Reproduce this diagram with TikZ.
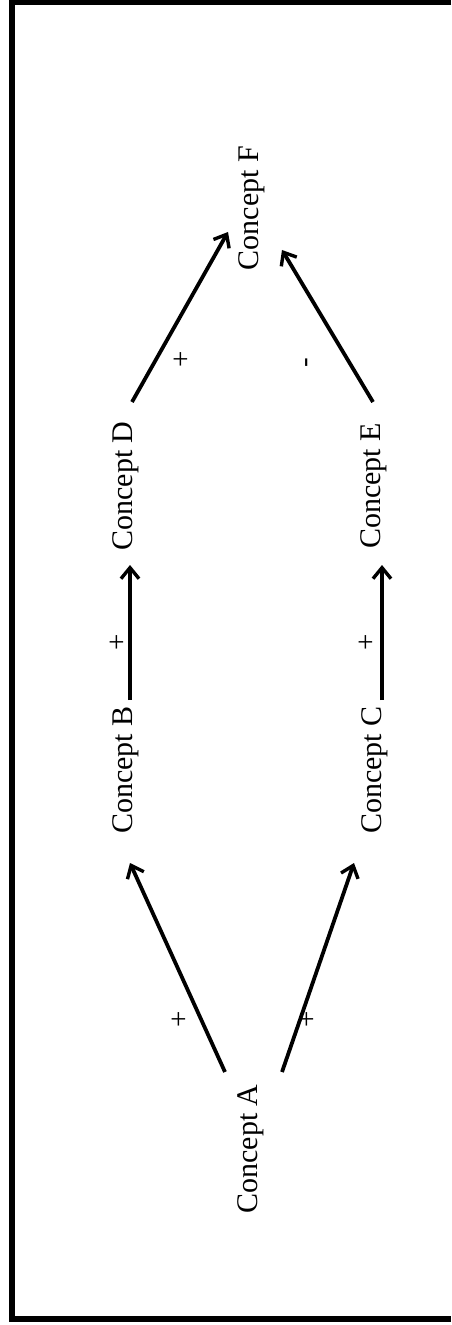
\documentclass[tikz,border=0pt]{standalone}
\usepackage{fontspec}
\setmainfont{Liberation Serif}
\usetikzlibrary{arrows.meta,calc}
\begin{document}
\begin{tikzpicture}[x=0.5pt,y=-0.5pt,
  concept/.style={rotate=90,anchor=base,inner sep=0pt,font=\fontsize{15}{18}\selectfont},
  sign/.style={rotate=90,inner sep=0pt,font=\fontsize{14.5}{17}\selectfont},
  link/.style={line width=1.9pt,-{Straight Barb[length=5.5pt,width=9pt,line width=1.7pt]}},
  frame/.style={line width=3pt}]
\useasboundingbox (0,0) rectangle (451,1325);
% open frame (right side runs off the page)
\draw[frame] (451,2.5) -- (11.5,2.5) -- (11.5,1318.5) -- (451,1318.5);

% concepts, set vertically
\node[concept] (A) at (257,1149) {Concept A};
\node[concept] (B) at (132,770) {Concept B};
\node[concept] (C) at (381,770) {Concept C};
\node[concept] (D) at (132,486) {Concept D};
\node[concept] (E) at (380,486) {Concept E};
\node[concept] (F) at (258,208) {Concept F};

% signed influences (sign offsets are in the rotated frame: yshift moves left)
\draw[link] ($(A.base)+(-32,-77)$) -- node[sign,pos=0.25,yshift=10.5pt] (sAB) {+} ($(B.base)+(-2,93)$);
\draw[link] ($(A.base)+(25,-77)$) -- node[sign,pos=0.25,yshift=-4pt] (sAC) {+} ($(C.base)+(-27,93)$);
\draw[link] ($(B.base)+(-2,-70)$) -- node[sign,pos=0.43,yshift=6pt] (sBD) {+} ($(D.base)+(-2,79)$);
\draw[link] ($(C.base)+(1,-70)$) -- node[sign,pos=0.43,yshift=7.5pt] (sCE) {+} ($(E.base)+(2,79)$);
\draw[link] ($(D.base)+(0,-84)$) -- node[sign,pos=0.25,yshift=-13pt] (sDF) {+} ($(F.base)+(-30,24)$);
\draw[link] ($(E.base)+(-7,-84)$) -- node[sign,pos=0.26,yshift=20pt] (sEF) {-} ($(F.base)+(24,42)$);
\end{tikzpicture}
\end{document}
